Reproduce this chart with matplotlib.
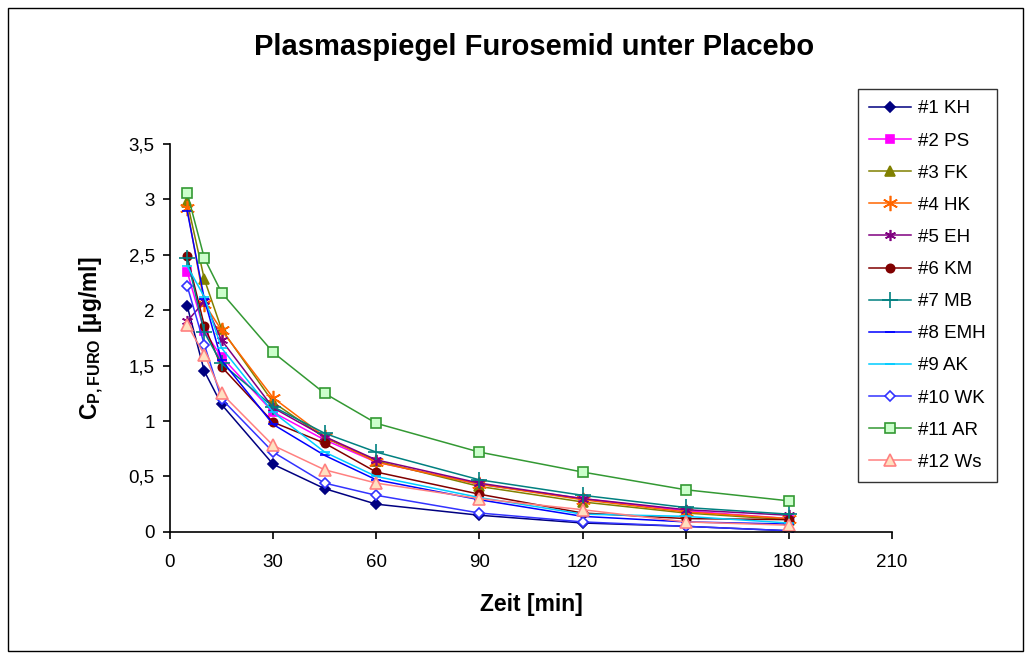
import matplotlib
matplotlib.use('Agg')
import matplotlib.pyplot as plt
from matplotlib.patches import Rectangle
from matplotlib.ticker import FuncFormatter

plt.rcParams['font.family'] = ['Liberation Sans', 'DejaVu Sans']
plt.rcParams['mathtext.fontset'] = 'custom'
plt.rcParams['mathtext.rm'] = 'Liberation Sans'
plt.rcParams['mathtext.bf'] = 'Liberation Sans:bold'

zeit = [5, 10, 15, 30, 45, 60, 90, 120, 150, 180]

names = ['#1 KH', '#2 PS', '#3 FK', '#4 HK', '#5 EH', '#6 KM',
         '#7 MB', '#8 EMH', '#9 AK', '#10 WK', '#11 AR', '#12 Ws']

kh = [2.04, 1.45, 1.15, 0.61, 0.39, 0.25, 0.15, 0.08, 0.05, 0.01]
ps = [2.35, 1.81, 1.58, 1.08, 0.83, 0.63, 0.43, 0.30, 0.19, 0.12]
fk = [2.98, 2.28, 1.83, 1.17, 0.85, 0.64, 0.41, 0.27, 0.17, 0.11]
hk = [2.92, 2.06, 1.82, 1.21, 0.86, 0.63, 0.43, 0.29, 0.18, 0.12]
eh = [1.90, 2.08, 1.73, 1.12, 0.86, 0.65, 0.44, 0.30, 0.20, 0.15]
km = [2.49, 1.86, 1.49, 0.99, 0.80, 0.54, 0.34, 0.17, 0.12, 0.11]
mb = [2.47, 1.80, 1.52, 1.13, 0.89, 0.72, 0.47, 0.33, 0.22, 0.16]
emh = [2.90, 2.10, 1.55, 0.97, 0.69, 0.47, 0.29, 0.14, 0.09, 0.07]
ak = [2.40, 2.12, 1.66, 1.08, 0.72, 0.50, 0.31, 0.16, 0.14, 0.08]
wk = [2.22, 1.69, 1.20, 0.72, 0.44, 0.33, 0.17, 0.09, 0.05, 0.01]
ar = [3.06, 2.47, 2.16, 1.62, 1.25, 0.98, 0.72, 0.54, 0.38, 0.28]
ws = [1.87, 1.60, 1.25, 0.78, 0.56, 0.44, 0.30, 0.20, 0.09, 0.06]

series = [kh, ps, fk, hk, eh, km, mb, emh, ak, wk, ar, ws]

# color, marker, markersize, facecolor
styles = [
    ('#000080', 'D', 5, '#000080'),
    ('#FF00FF', 's', 6, '#FF00FF'),
    ('#808000', '^', 7, '#808000'),
    ('#FF6600', (6, 2, 0), 11, '#FF6600'),
    ('#800080', (6, 2, 0), 8, '#800080'),
    ('#800000', 'o', 6, '#800000'),
    ('#008080', '+', 11, '#008080'),
    ('#0000FF', '_', 7, '#0000FF'),
    ('#00CCFF', '_', 7, '#00CCFF'),
    ('#3333FF', 'D', 5, 'white'),
    ('#339933', 's', 7, '#CCFFCC'),
    ('#FF8080', '^', 8, '#FFE0C0'),
]

fig = plt.figure(figsize=(10.27, 6.55), dpi=100)
ax = fig.add_axes([0.1655, 0.188, 0.703, 0.592])

for name, y, (c, m, ms, fc) in zip(names, series, styles):
    ax.plot(zeit, y, color=c, lw=1.1, marker=m, markersize=ms,
            markerfacecolor=fc, markeredgecolor=c, markeredgewidth=1.2,
            label=name)

ax.set_xlim(0, 210)
ax.set_ylim(0, 3.5)
ax.set_xticks(range(0, 211, 30))
ax.set_yticks([0, 0.5, 1, 1.5, 2, 2.5, 3, 3.5])
ax.yaxis.set_major_formatter(FuncFormatter(lambda v, p: f'{v:g}'.replace('.', ',')))
ax.spines['top'].set_visible(False)
ax.spines['right'].set_visible(False)
ax.spines['left'].set_linewidth(1.2)
ax.spines['bottom'].set_linewidth(1.2)
ax.tick_params(labelsize=13.5, length=5, width=1.2, direction='out')
ax.tick_params(axis='x', pad=11)
ax.tick_params(axis='y', pad=6)

ax.set_xlabel('Zeit [min]', fontsize=16.5, fontweight='bold', labelpad=16)
ax.set_ylabel(r'C$_\mathbf{P,FURO}$ [µg/ml]', fontsize=16.5, fontweight='bold', labelpad=16)
fig.text(0.52, 0.928, 'Plasmaspiegel Furosemid unter Placebo', ha='center', va='center',
         fontsize=21, fontweight='bold')

leg = fig.legend(loc='upper left', bbox_to_anchor=(0.8355, 0.864), fontsize=13.5,
                 frameon=True, fancybox=False, edgecolor='black', borderpad=0.6,
                 borderaxespad=0, labelspacing=0.8, handlelength=2.2,
                 handletextpad=0.4)
leg.get_frame().set_linewidth(1.0)

fig.patches.append(Rectangle((0.008, 0.006), 0.988, 0.982, transform=fig.transFigure,
                             fill=False, edgecolor='black', lw=1.0))

fig.savefig('out.png', dpi=100)
